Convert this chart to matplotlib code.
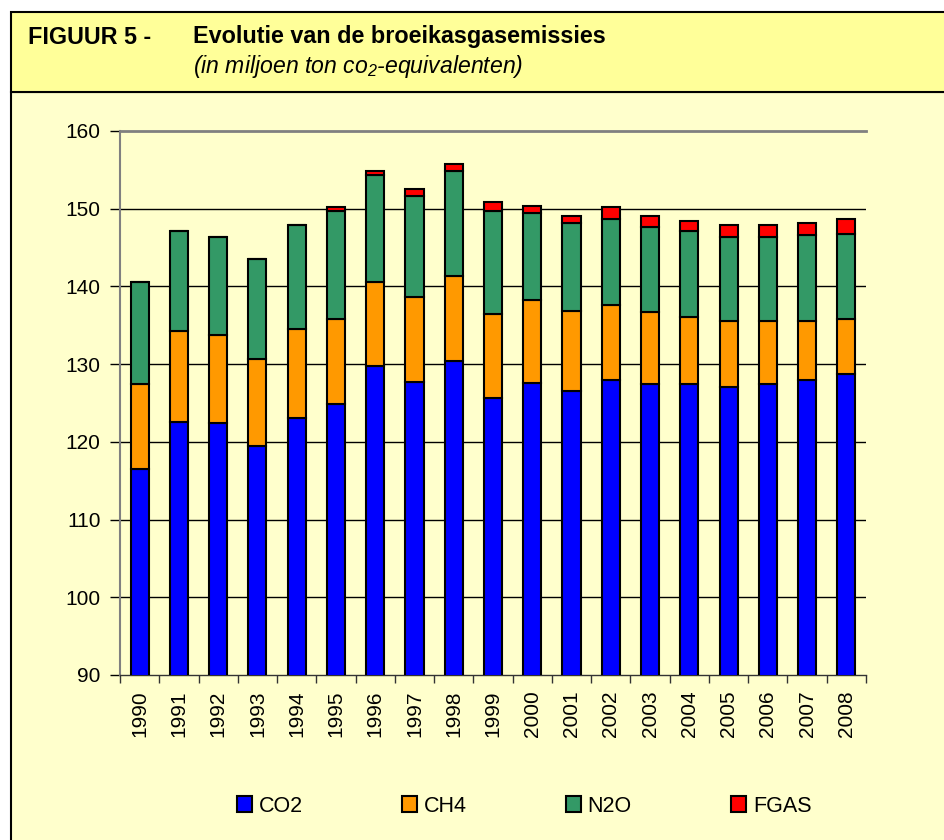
import numpy as np
import matplotlib
matplotlib.use("Agg")
import matplotlib.pyplot as plt
from matplotlib.patches import Rectangle, Patch

plt.rcParams['font.family'] = ['Liberation Sans', 'DejaVu Sans']
plt.rcParams['mathtext.fontset'] = 'custom'
plt.rcParams['mathtext.rm'] = 'Liberation Sans:italic'
plt.rcParams['mathtext.it'] = 'Liberation Sans:italic'

# -----------------------------
# Data (miljoen ton CO2-eq)
# -----------------------------
years = [str(y) for y in range(1990, 2009)]
co2 = [116.5, 122.6, 122.4, 119.5, 123.1, 124.9, 129.7, 127.7, 130.4, 125.6,
       127.6, 126.6, 127.9, 127.4, 127.4, 127.1, 127.4, 127.9, 128.7]
ch4 = [11.0, 11.7, 11.4, 11.2, 11.4, 10.9, 10.9, 11.0, 11.0, 10.8,
       10.6, 10.3, 9.7, 9.3, 8.7, 8.5, 8.2, 7.7, 7.1]
n2o = [13.1, 12.8, 12.6, 12.8, 13.4, 13.9, 13.7, 13.0, 13.5, 13.3,
       11.2, 11.3, 11.1, 10.9, 11.0, 10.8, 10.8, 11.0, 11.0]
fgas = [0.0, 0.0, 0.0, 0.0, 0.0, 0.5, 0.5, 0.8, 0.8, 1.1,
        1.0, 0.9, 1.5, 1.5, 1.3, 1.5, 1.5, 1.5, 1.9]

series = [("CO2", co2, "#0000FF"), ("CH4", ch4, "#FF9900"),
          ("N2O", n2o, "#339966"), ("FGAS", fgas, "#FF0000")]

W, H = 945, 840
fig = plt.figure(figsize=(W / 100, H / 100), dpi=100, facecolor="white")

# -----------------------------
# Background boxes
# -----------------------------
fig.add_artist(Rectangle((11 / W, -0.05), 1.0, 1 - 92 / H + 0.05,
                         transform=fig.transFigure, facecolor="#FFFFCC",
                         edgecolor="black", lw=1.5, zorder=0))
fig.add_artist(Rectangle((11 / W, 1 - 92 / H), 1.0, 80 / H,
                         transform=fig.transFigure, facecolor="#FFFF99",
                         edgecolor="black", lw=1.5, zorder=0))

fig.text(28 / W, 1 - 37 / H, "FIGUUR 5 -", fontsize=16.8, fontweight="bold",
         va="center", ha="left")
fig.text(193 / W, 1 - 37 / H, "Evolutie van de broeikasgasemissies",
         fontsize=16.8, fontweight="bold", va="center", ha="left")
fig.text(193 / W, 1 - 66 / H, "(in miljoen ton co$_2$-equivalenten)",
         fontsize=16.6, style="italic", va="center", ha="left")

# -----------------------------
# Stacked bars
# -----------------------------
ax = fig.add_axes([120 / W, 1 - 675 / H, 746 / W, 544 / H])
ax.set_facecolor("none")
x = np.arange(len(years))
bottom = np.zeros(len(years))
handles = []
for name, vals, col in series:
    vals = np.array(vals)
    ax.bar(x, vals, bottom=bottom, width=0.46, color=col,
           edgecolor="black", linewidth=1.5, zorder=3)
    bottom += vals
    handles.append(Patch(facecolor=col, edgecolor="black", linewidth=1.5, label=name))

ax.set_xlim(-0.5, len(years) - 0.5)
ax.set_ylim(90, 160)
ax.set_yticks(range(90, 161, 10))
ax.tick_params(axis="y", labelsize=15, length=7, width=1, pad=7, color="black")

ax.set_xticks(x)
ax.set_xticklabels(years, rotation=90, fontsize=15)
ax.set_xticks(np.arange(-0.5, len(years)), minor=True)
ax.tick_params(axis="x", which="major", length=0, pad=11)
ax.tick_params(axis="x", which="minor", length=6, width=1, color="#333333")

for yv in range(100, 151, 10):
    ax.axhline(yv, color="black", lw=1, zorder=1)

ax.spines["right"].set_visible(False)
ax.spines["left"].set_color("#808080")
ax.spines["left"].set_linewidth(1.5)
ax.spines["top"].set_color("#808080")
ax.spines["top"].set_linewidth(2)
ax.spines["bottom"].set_color("#333333")
ax.spines["bottom"].set_linewidth(1)

fig.legend(handles=handles, ncol=4, loc="center", bbox_to_anchor=(524 / W, 1 - 806 / H),
           frameon=False, fontsize=15.5, handlelength=0.72, handleheight=0.72,
           handletextpad=0.3, columnspacing=4.6)

fig.savefig("out.png", dpi=100, facecolor="white")
